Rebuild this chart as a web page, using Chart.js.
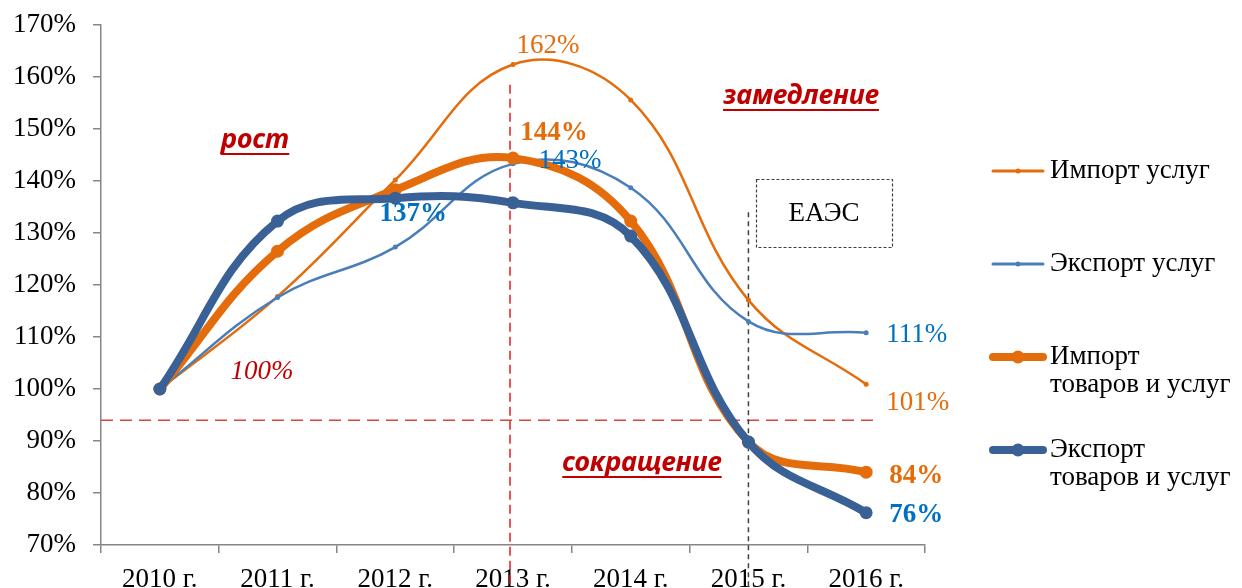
<!DOCTYPE html>
<html lang="ru">
<head>
<meta charset="utf-8">
<title>Импорт и экспорт, 2010–2016</title>
<script src="https://cdn.jsdelivr.net/npm/chart.js@4/dist/chart.umd.min.js"></script>
<style>
    html, body { margin: 0; padding: 0; background: #fff; overflow: hidden; }
    #wrap { width: 1242px; height: 588px; }
</style>
</head>
<body>
<div id="wrap"><canvas id="tradeChart" width="1242" height="588"></canvas></div>
<script>
const years = ['2010 г.', '2011 г.', '2012 г.', '2013 г.', '2014 г.', '2015 г.', '2016 г.'];
const importServices = [100, 117.8, 140.2, 162.4, 155.6, 117.1, 100.9];
const exportServices = [100, 117.6, 127.3, 143.3, 138.7, 113.0, 110.8];
const importTotal = [100, 126.5, 138.3, 144.4, 132.3, 89.8, 84.0];
const exportTotal = [100, 132.3, 136.7, 135.8, 129.4, 89.8, 76.2];
const yTicks = [70, 80, 90, 100, 110, 120, 130, 140, 150, 160, 170];
const thresholdLine = 94;

const SERIF = '"Liberation Serif", "Times New Roman", serif';
const SANS = '"Noto Sans", "Open Sans", sans-serif';
const RED = '#c00000';
const FONT_SIZE = 27;

const series = [
    { label: ['Импорт услуг'], data: importServices, color: '#e46c0a', width: 2.5, radius: 2.5, order: 4 },
    { label: ['Экспорт услуг'], data: exportServices, color: '#4a7ebb', width: 2.5, radius: 2.5, order: 3 },
    { label: ['Импорт', 'товаров и услуг'], data: importTotal, color: '#e46c0a', width: 8, radius: 6.5, order: 2 },
    { label: ['Экспорт', 'товаров и услуг'], data: exportTotal, color: '#3a6196', width: 8, radius: 6.5, order: 1 }
];

// value labels: dataset, point index, offset, colour, bold, alignment
const valueLabels = [
    { ds: 0, i: 3, dx: 35, dy: -19, color: '#e46c0a', bold: false, align: 'center' },
    { ds: 1, i: 3, dx: 57, dy: -3, color: '#0070c0', bold: false, align: 'center' },
    { ds: 2, i: 3, dx: 41, dy: -25, color: '#e46c0a', bold: true, align: 'center' },
    { ds: 3, i: 2, dx: 18, dy: 16, color: '#0070c0', bold: true, align: 'center' },
    { ds: 1, i: 6, dx: 20, dy: 2, color: '#0070c0', bold: false, align: 'left' },
    { ds: 0, i: 6, dx: 20, dy: 19, color: '#e46c0a', bold: false, align: 'left' },
    { ds: 2, i: 6, dx: 23, dy: 4, color: '#e46c0a', bold: true, align: 'left' },
    { ds: 3, i: 6, dx: 23, dy: 2, color: '#0070c0', bold: true, align: 'left' }
];

const phaseNotes = [
    { text: 'рост', x: 255, y: 140 },
    { text: 'замедление', x: 801, y: 96 },
    { text: 'сокращение', x: 642, y: 463 }
];

const decorations = {
    id: 'decorations',
    beforeDatasetsDraw(chart) {
        const { ctx, scales: { x, y } } = chart;
        const bottom = chart.height;
        ctx.save();

        // threshold and 2013 split lines
        ctx.strokeStyle = '#d9443f';
        ctx.lineWidth = 1.5;
        ctx.setLineDash([12, 7]);
        const yt = y.getPixelForValue(thresholdLine);
        ctx.beginPath();
        ctx.moveTo(x.left, yt);
        ctx.lineTo(880, yt);
        ctx.stroke();

        ctx.strokeStyle = '#e0201c';
        ctx.setLineDash([9, 5]);
        const x13 = x.getPixelForValue(3) - 3;
        ctx.beginPath();
        ctx.moveTo(x13, y.getPixelForValue(158.5));
        ctx.lineTo(x13, bottom);
        ctx.stroke();

        // 2015 marker and ЕАЭС box
        ctx.strokeStyle = '#404040';
        ctx.setLineDash([5, 4]);
        const x15 = x.getPixelForValue(5);
        ctx.beginPath();
        ctx.moveTo(x15, y.getPixelForValue(134));
        ctx.lineTo(x15, bottom);
        ctx.stroke();

        ctx.setLineDash([3, 2]);
        ctx.lineWidth = 1.2;
        ctx.strokeRect(756.5, 179.5, 136, 68);
        ctx.setLineDash([]);
        ctx.fillStyle = '#000';
        ctx.font = FONT_SIZE + 'px ' + SERIF;
        ctx.textAlign = 'center';
        ctx.textBaseline = 'middle';
        ctx.fillText('ЕАЭС', 824, 214);

        // phase notes
        ctx.fillStyle = RED;
        ctx.strokeStyle = RED;
        ctx.lineWidth = 2;
        ctx.font = 'italic bold 27px ' + SANS;
        phaseNotes.forEach(n => {
            ctx.fillText(n.text, n.x, n.y);
            const w = ctx.measureText(n.text).width;
            ctx.beginPath();
            ctx.moveTo(n.x - w / 2, n.y + 14);
            ctx.lineTo(n.x + w / 2, n.y + 14);
            ctx.stroke();
        });

        ctx.font = 'italic 27px ' + SERIF;
        ctx.fillText('100%', 262, 372);
        ctx.restore();
    },
    afterDatasetsDraw(chart) {
        const { ctx } = chart;
        ctx.save();
        ctx.textBaseline = 'middle';
        valueLabels.forEach(l => {
            const pt = chart.getDatasetMeta(l.ds).data[l.i];
            const v = chart.data.datasets[l.ds].data[l.i];
            ctx.font = (l.bold ? 'bold ' : '') + FONT_SIZE + 'px ' + SERIF;
            ctx.fillStyle = l.color;
            ctx.textAlign = l.align;
            ctx.fillText(Math.round(v) + '%', pt.x + l.dx, pt.y + l.dy);
        });

        // legend on the right
        let ly = 171;
        series.forEach(s => {
            ctx.strokeStyle = s.color;
            ctx.fillStyle = s.color;
            ctx.lineWidth = s.width === 8 ? 8 : 3;
            ctx.lineCap = 'round';
            ctx.beginPath();
            ctx.moveTo(993, ly);
            ctx.lineTo(1043, ly);
            ctx.stroke();
            ctx.beginPath();
            ctx.arc(1018, ly, s.width === 8 ? 6.5 : 2.5, 0, Math.PI * 2);
            ctx.fill();
            ctx.fillStyle = '#000';
            ctx.font = FONT_SIZE + 'px ' + SERIF;
            ctx.textAlign = 'left';
            s.label.forEach((t, k) => ctx.fillText(t, 1050, ly + k * 28));
            ly += 93;
        });
        ctx.restore();
    }
};

new Chart(document.getElementById('tradeChart'), {
    type: 'line',
    data: {
        labels: years,
        datasets: series.map(s => ({
            label: s.label.join(' '),
            data: s.data,
            borderColor: s.color,
            backgroundColor: s.color,
            borderWidth: s.width,
            pointRadius: s.radius,
            pointBorderWidth: 0,
            pointBackgroundColor: s.color,
            tension: 0.4,
            order: s.order,
            fill: false
        }))
    },
    options: {
        responsive: false,
        animation: false,
        layout: { padding: { top: 25, right: 317, left: 0, bottom: 0 } },
        plugins: {
            legend: { display: false },
            tooltip: { enabled: false }
        },
        scales: {
            x: {
                offset: true,
                grid: { offset: true, drawOnChartArea: false, drawTicks: true, tickLength: 8, color: '#868686', lineWidth: 1.5 },
                border: { color: '#868686', width: 1.5 },
                ticks: { color: '#000', font: { family: SERIF, size: FONT_SIZE }, padding: 11, maxRotation: 0 },
                afterFit: s => { s.height = 43; s.paddingLeft = 0; s.paddingRight = 0; }
            },
            y: {
                min: 70,
                max: 170,
                afterBuildTicks: s => { s.ticks = yTicks.map(v => ({ value: v })); },
                grid: { drawOnChartArea: false, drawTicks: true, tickLength: 8, color: '#868686', lineWidth: 1.5 },
                border: { color: '#868686', width: 1.5 },
                ticks: { color: '#000', font: { family: SERIF, size: FONT_SIZE }, padding: 17, callback: v => v + '%' },
                afterFit: s => { s.width = 101; s.paddingTop = 0; s.paddingBottom = 0; }
            }
        }
    },
    plugins: [decorations]
});
</script>
</body>
</html>
